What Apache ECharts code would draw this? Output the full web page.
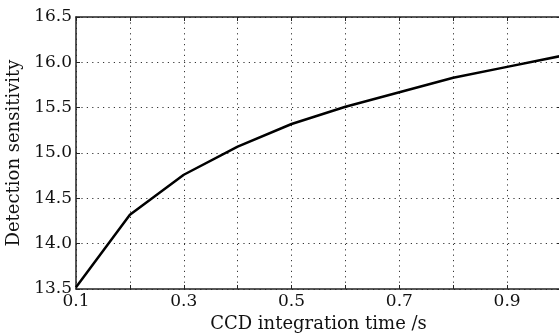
<!DOCTYPE html>
<html>
<head>
<meta charset="utf-8">
<script src="https://cdn.jsdelivr.net/npm/echarts@6/dist/echarts.min.js"></script>
<style>
	html, body { margin: 0; padding: 0; background: #fff; }
	#chart { width: 559px; height: 333px; }
</style>
</head>
<body>
<div id="chart"></div>
<script>
// data
const times = [0.1, 0.2, 0.3, 0.4, 0.5, 0.6, 0.7, 0.8, 0.9, 1.0]
const sensitivity = [13.52, 14.32, 14.76, 15.07, 15.32, 15.51, 15.67, 15.83, 15.95, 16.07]
const xName = 'CCD integration time /s'
const yName = 'Detection sensitivity'

const font = 'DejaVu Serif'
const axisColor = '#222'
const gridLine = {
	show: true,
	lineStyle: { color: '#333', width: 1, type: [1.2, 4.2] }
}

const chart = echarts.init(document.getElementById('chart'))

// x labels only on odd tenths
const xLabel = (v) => {
	const k = Math.round(v * 10)
	return k % 2 === 1 ? (k / 10).toFixed(1) : ''
}

const baseX = {
	type: 'value',
	min: 0.1,
	max: 1.0,
	interval: 0.1,
	axisLine: { show: true, lineStyle: { color: axisColor, width: 1.5 } },
	axisTick: { show: true, inside: true, length: 4, lineStyle: { color: axisColor } }
}
const baseY = {
	type: 'value',
	min: 13.5,
	max: 16.5,
	interval: 0.5,
	axisLine: { show: true, lineStyle: { color: axisColor, width: 1.5 } },
	axisTick: { show: true, inside: true, length: 4, lineStyle: { color: axisColor } }
}

const option = {
	animation: false,
	backgroundColor: '#fff',
	grid: { left: 76, right: -2, top: 17, bottom: 44, outerBoundsMode: 'none', containLabel: false },
	xAxis: [
		Object.assign({}, baseX, {
			position: 'bottom',
			name: xName,
			nameLocation: 'middle',
			nameGap: 23,
			nameTextStyle: { fontFamily: font, fontSize: 18, color: '#111' },
			axisLabel: { formatter: xLabel, fontFamily: font, fontSize: 17, color: '#111', margin: 4 },
			splitLine: gridLine
		}),
		Object.assign({}, baseX, {
			position: 'top',
			axisLabel: { show: false },
			splitLine: { show: false }
		})
	],
	yAxis: [
		Object.assign({}, baseY, {
			position: 'left',
			name: yName,
			nameLocation: 'middle',
			nameGap: 50,
			nameTextStyle: { fontFamily: font, fontSize: 18, color: '#111' },
			axisLabel: { formatter: (v) => v.toFixed(1), fontFamily: font, fontSize: 17, color: '#111', margin: 4 },
			splitLine: gridLine
		}),
		Object.assign({}, baseY, {
			position: 'right',
			axisLabel: { show: false },
			splitLine: { show: false }
		})
	],
	series: [
		{
			type: 'line',
			data: times.map((t, i) => [t, sensitivity[i]]),
			symbol: 'none',
			lineStyle: { color: '#000', width: 2.5 }
		}
	]
}

chart.setOption(option)
</script>
</body>
</html>
